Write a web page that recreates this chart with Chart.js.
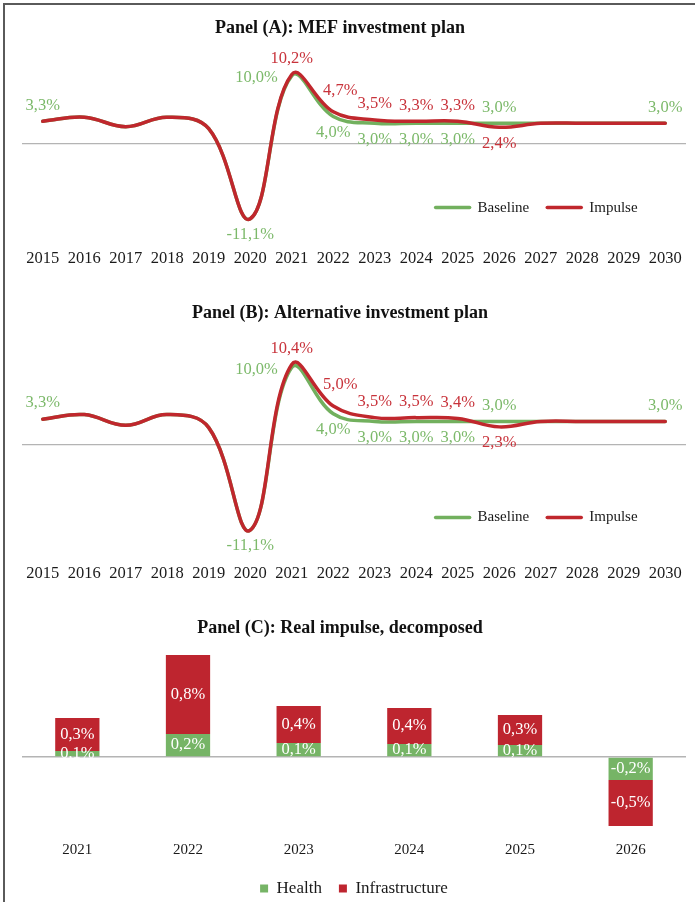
<!DOCTYPE html>
<html>
<head>
<meta charset="utf-8">
<script src="https://cdn.jsdelivr.net/npm/chart.js@4.4.1/dist/chart.umd.min.js"></script>
<style>
  body { margin: 0; background: #fff; width: 695px; height: 902px; position: relative; overflow: hidden; }
  .frame { position: absolute; left: 3px; top: 3px; width: 692px; height: 899px; border-top: 2px solid #5a5a5a; border-left: 2px solid #5a5a5a; }
  canvas { position: absolute; left: 0; }
</style>
</head>
<body>
<div class="frame"></div>
<canvas id="chartA" width="695" height="285" style="top:0px"></canvas>
<canvas id="chartB" width="695" height="305" style="top:285px"></canvas>
<canvas id="chartC" width="695" height="330" style="top:590px"></canvas>
<script>
// Datos
const years = ['2015', '2016', '2017', '2018', '2019', '2020', '2021', '2022', '2023', '2024', '2025', '2026', '2027', '2028', '2029', '2030'];
const baselineA = [3.3, 3.9, 2.5, 3.9, 2.2, -11.1, 10.0, 4.0, 3.0, 3.0, 3.0, 3.0, 3.0, 3.0, 3.0, 3.0];
const impulseA = [3.3, 3.9, 2.5, 3.9, 2.2, -11.1, 10.2, 4.7, 3.5, 3.3, 3.3, 2.4, 3.0, 3.0, 3.0, 3.0];
const baselineB = [3.3, 3.9, 2.5, 3.9, 2.2, -11.1, 10.0, 4.0, 3.0, 3.0, 3.0, 3.0, 3.0, 3.0, 3.0, 3.0];
const impulseB = [3.3, 3.9, 2.5, 3.9, 2.2, -11.1, 10.4, 5.0, 3.5, 3.5, 3.4, 2.3, 3.0, 3.0, 3.0, 3.0];

const impulseYears = ['2021', '2022', '2023', '2024', '2025', '2026'];
const health = [0.06, 0.23, 0.14, 0.13, 0.12, -0.23];
const infrastructure = [0.33, 0.79, 0.37, 0.36, 0.30, -0.46];

const titles = [
    'Panel (A): MEF investment plan',
    'Panel (B): Alternative investment plan',
    'Panel (C): Real impulse, decomposed'
];

const GREEN = '#72b05e';
const RED = '#c0272d';
const GREEN_TXT = '#7cb96a';
const RED_TXT = '#c8333b';
const FAMILY = "'Liberation Serif', 'DejaVu Serif', serif";

Chart.defaults.font.family = FAMILY;
Chart.defaults.color = '#1a1a1a';
Chart.defaults.animation = false;

function pct(v) {
    return v.toFixed(1).replace('.', ',') + '%';
}

// Título del panel, centrado en x fijo
const panelTitle = {
    id: 'panelTitle',
    afterDraw(chart, args, opts) {
        const ctx = chart.ctx;
        ctx.save();
        ctx.font = 'bold 18px ' + FAMILY;
        ctx.fillStyle = '#111';
        ctx.textAlign = 'center';
        ctx.textBaseline = 'middle';
        ctx.fillText(opts.text, opts.x, opts.y);
        ctx.restore();
    }
};

// Etiquetas de valores en las líneas
const pointLabels = {
    id: 'pointLabels',
    afterDatasetsDraw(chart, args, opts) {
        const ctx = chart.ctx;
        ctx.save();
        ctx.font = '16.5px ' + FAMILY;
        ctx.textBaseline = 'middle';
        chart.data.datasets.forEach((ds, d) => {
            const meta = chart.getDatasetMeta(d);
            (opts.spots[d] || []).forEach(s => {
                const pt = meta.data[s.i];
                let x = pt.x, y = pt.y, align = 'center';
                if (s.pos === 'above') y -= 16;
                else if (s.pos === 'below') y += 16;
                else if (s.pos === 'left') { x -= 14; y += 2; align = 'right'; }
                else if (s.pos === 'aboveRight') { x += 7; y -= 21; }
                ctx.fillStyle = opts.colors[d];
                ctx.textAlign = align;
                ctx.fillText(pct(ds.data[s.i]), x, y);
            });
        });
        ctx.restore();
    }
};

// Leyenda dentro del área del gráfico
const lineLegend = {
    id: 'lineLegend',
    afterDraw(chart, args, opts) {
        const ctx = chart.ctx;
        const a = chart.chartArea;
        ctx.save();
        ctx.font = '15px ' + FAMILY;
        const items = chart.data.datasets.map(ds => ({
            text: ds.label, color: ds.borderColor, w: ctx.measureText(ds.label).width
        }));
        const total = items.reduce((s, it) => s + 34 + 8 + it.w, 0) + 18 * (items.length - 1);
        let x = a.left + a.width * opts.cx - total / 2;
        const y = a.top + a.height * opts.cy;
        items.forEach(it => {
            ctx.strokeStyle = it.color;
            ctx.lineWidth = 3.5;
            ctx.lineCap = 'round';
            ctx.beginPath();
            ctx.moveTo(x, y);
            ctx.lineTo(x + 34, y);
            ctx.stroke();
            ctx.fillStyle = '#1a1a1a';
            ctx.textAlign = 'left';
            ctx.textBaseline = 'middle';
            ctx.fillText(it.text, x + 42, y);
            x += 34 + 8 + it.w + 18;
        });
        ctx.restore();
    }
};

// Etiquetas blancas dentro de las barras
const barLabels = {
    id: 'barLabels',
    afterDatasetsDraw(chart) {
        const ctx = chart.ctx;
        ctx.save();
        ctx.font = '16.5px ' + FAMILY;
        ctx.fillStyle = '#fff';
        ctx.textAlign = 'center';
        ctx.textBaseline = 'middle';
        chart.data.datasets.forEach((ds, d) => {
            chart.getDatasetMeta(d).data.forEach((bar, i) => {
                ctx.fillText(pct(ds.data[i]), bar.x, (bar.y + bar.base) / 2);
            });
        });
        ctx.restore();
    }
};

function zeroLine(ctx) {
    return Math.abs(ctx.tick.value) < 1e-9 ? '#b4b4b4' : 'rgba(0,0,0,0)';
}

function lineChart(id, title, titleY, baseline, impulse, spots, padding) {
    const common = { borderWidth: 3.5, pointRadius: 0, tension: 0.4, fill: false, borderCapStyle: 'round' };
    return new Chart(document.getElementById(id), {
        type: 'line',
        data: {
            labels: years,
            datasets: [
                { ...common, label: 'Baseline', data: baseline, borderColor: GREEN, order: 1 },
                { ...common, label: 'Impulse', data: impulse, borderColor: RED, order: 0 }
            ]
        },
        options: {
            responsive: false,
            layout: { padding: padding },
            plugins: {
                legend: { display: false },
                tooltip: { enabled: false },
                panelTitle: { text: title, x: 340, y: titleY },
                pointLabels: { spots: spots, colors: [GREEN_TXT, RED_TXT] },
                lineLegend: { cx: 0.775, cy: 0.815 }
            },
            scales: {
                x: {
                    offset: true,
                    grid: { display: false, drawTicks: false },
                    border: { display: false },
                    ticks: { padding: 4, font: { size: 16.5 }, color: '#1a1a1a', autoSkip: false, maxRotation: 0 }
                },
                y: {
                    min: -15, max: 15,
                    ticks: { display: false, stepSize: 5 },
                    grid: { color: zeroLine, lineWidth: 1.3, drawTicks: false },
                    border: { display: false }
                }
            }
        },
        plugins: [panelTitle, pointLabels, lineLegend]
    });
}

const spotsA = [
    [{ i: 0, pos: 'above' }, { i: 5, pos: 'below' }, { i: 6, pos: 'left' }, { i: 7, pos: 'below' },
     { i: 8, pos: 'below' }, { i: 9, pos: 'below' }, { i: 10, pos: 'below' }, { i: 11, pos: 'above' }, { i: 15, pos: 'above' }],
    [{ i: 6, pos: 'above' }, { i: 7, pos: 'aboveRight' }, { i: 8, pos: 'above' }, { i: 9, pos: 'above' },
     { i: 10, pos: 'above' }, { i: 11, pos: 'below' }]
];
const spotsB = spotsA;

lineChart('chartA', titles[0], 28, baselineA, impulseA, spotsA, { top: 42, left: 22, right: 9, bottom: 12 });
lineChart('chartB', titles[1], 28, baselineB, impulseB, spotsB, { top: 44, left: 22, right: 9, bottom: 2 });

// Panel C: barras apiladas
new Chart(document.getElementById('chartC'), {
    type: 'bar',
    data: {
        labels: impulseYears,
        datasets: [
            { label: 'Health', data: health, backgroundColor: '#76b466' },
            { label: 'Infrastructure', data: infrastructure, backgroundColor: '#be252f' }
        ]
    },
    options: {
        responsive: false,
        layout: { padding: { top: 47, left: 22, right: 9, bottom: 13 } },
        barPercentage: 0.4,
        categoryPercentage: 1.0,
        plugins: {
            legend: {
                position: 'bottom',
                labels: { boxWidth: 8, boxHeight: 8, padding: 17, font: { size: 17 }, color: '#1a1a1a' }
            },
            tooltip: { enabled: false },
            panelTitle: { text: titles[2], x: 340, y: 38 }
        },
        scales: {
            x: {
                stacked: true,
                grid: { display: false, drawTicks: false },
                border: { display: false },
                ticks: { padding: 4, font: { size: 15 }, color: '#1a1a1a' }
            },
            y: {
                stacked: true,
                min: -0.8, max: 1.2,
                ticks: { display: false, stepSize: 0.4 },
                grid: { color: zeroLine, lineWidth: 1.5, drawTicks: false },
                border: { display: false }
            }
        }
    },
    plugins: [panelTitle, barLabels]
});
</script>
</body>
</html>
